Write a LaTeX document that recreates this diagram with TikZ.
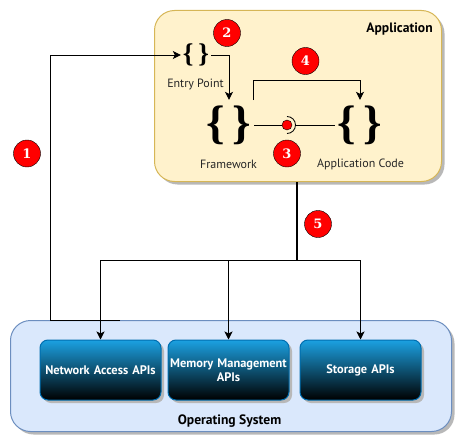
\documentclass[tikz,border=0pt]{standalone}
\usepackage{fontspec}
\setmainfont{PT Sans}
\newfontfamily\bracefont{Liberation Serif}
\newfontfamily\badgefont{DejaVu Serif}
\usetikzlibrary{arrows.meta,shadows}
\definecolor{appfill}{HTML}{FFF2CC}
\definecolor{appline}{HTML}{D6B656}
\definecolor{osfill}{HTML}{DAE8FC}
\definecolor{osline}{HTML}{6C8EBF}
\definecolor{apitop}{HTML}{1BA1E2}
\definecolor{apiline}{HTML}{006EAF}
\tikzset{
  panel/.style={draw=#1,line width=1pt,rounded corners=20pt,anchor=north west,inner sep=0pt,
    general shadow={shadow xshift=3pt,shadow yshift=-3pt,fill=black!28}},
  api/.style={draw=apiline,line width=1pt,rounded corners=8pt,minimum width=121pt,minimum height=60pt,
    top color=apitop,bottom color=black,text=white,align=center,inner sep=0pt,text width=119pt,
    font=\fontsize{12.4}{14.5}\selectfont\bfseries,
    general shadow={shadow xshift=3pt,shadow yshift=-3pt,fill=black!28}},
  badge/.style={circle,draw=black,fill=red,text=white,minimum size=27pt,inner sep=0pt,
    font=\badgefont\fontsize{13}{13}\selectfont\bfseries},
  code/.style={inner sep=0pt,minimum width=#1,minimum height=#1},
  caption/.style={font=\fontsize{12}{14}\selectfont,text=black!85,inner sep=0pt},
  heading/.style={font=\fontsize{13.6}{15}\selectfont\bfseries,inner sep=0pt},
  conn/.style={->,>={Stealth[length=8pt,width=8pt,inset=2pt]},line width=0.9pt}
}
\begin{document}
\begin{tikzpicture}[x=1pt,y=-1pt]
  \useasboundingbox (0,0) rectangle (463,444);
  % containers
  \node[panel=appline,fill=appfill,minimum width=287pt,minimum height=171pt] (app) at (154,10) {};
  \node[panel=osline,fill=osfill,minimum width=441pt,minimum height=111pt] (os) at (10,320) {};
  \node[heading] (applabel) at (399.5,29) {Application};
  \node[heading] (oslabel) at (229.5,421) {Operating System};
  % api boxes
  \node[api] (network) at (100.5,370) {Network Access APIs};
  \node[api] (memory) at (228.5,370) {Memory Management\\APIs};
  \node[api] (storage) at (360.5,370) {Storage APIs};
  % code blocks
  \node[code=30pt,font=\bracefont\fontsize{27}{27}\selectfont\bfseries] (entry) at (196,55) {\{\hspace{5pt}\}};
  \node[code=50pt,font=\bracefont\fontsize{47}{47}\selectfont\bfseries] (framework) at (229,125) {\{\hspace{8pt}\}};
  \node[code=50pt,font=\bracefont\fontsize{47}{47}\selectfont\bfseries] (appcode) at (360,125) {\{\hspace{8pt}\}};
  \node[caption] (entrylabel) at (195.5,84.5) {Entry Point};
  \node[caption] (frameworklabel) at (228.5,164.5) {Framework};
  \node[caption] (appcodelabel) at (360.5,164.5) {Application Code};
  % connectors
  \coordinate (osstart) at (120,320);
  \coordinate (split) at (297,260);
  \coordinate (fwout) at (253,100);
  \draw[conn] (osstart) -- (50,320) |- (entry.west);
  \draw[conn] (entry.east) -| (framework.north);
  \draw[conn] (fwout) |- (360,80) -- (appcode.north);
  \node[circle,draw=black,fill=red,minimum size=10pt,inner sep=0pt] (socket) at (287,125) {};
  \draw[line width=0.8pt] (framework.east) -- (socket.west);
  \draw[line width=0.8pt] (socket.center) ++(0,-8.5) arc[start angle=-90,end angle=90,radius=8.5];
  \draw[line width=0.8pt] (296,125) -- (appcode.west);
  \draw[line width=1.2pt] (app.south -| split) -- (split);
  \draw[line width=0.9pt] (network.north |- split) -- (storage.north |- split);
  \draw[conn] (network.north |- split) -- (network.north);
  \draw[conn] (memory.north |- split) -- (memory.north);
  \draw[conn] (storage.north |- split) -- (storage.north);
  % numbered marks
  \node[badge] (one) at (27,153.5) {1};
  \node[badge] (two) at (227,33) {2};
  \node[badge] (three) at (287,153.5) {3};
  \node[badge] (four) at (305.5,61) {4};
  \node[badge] (five) at (318,224) {5};
\end{tikzpicture}
\end{document}
